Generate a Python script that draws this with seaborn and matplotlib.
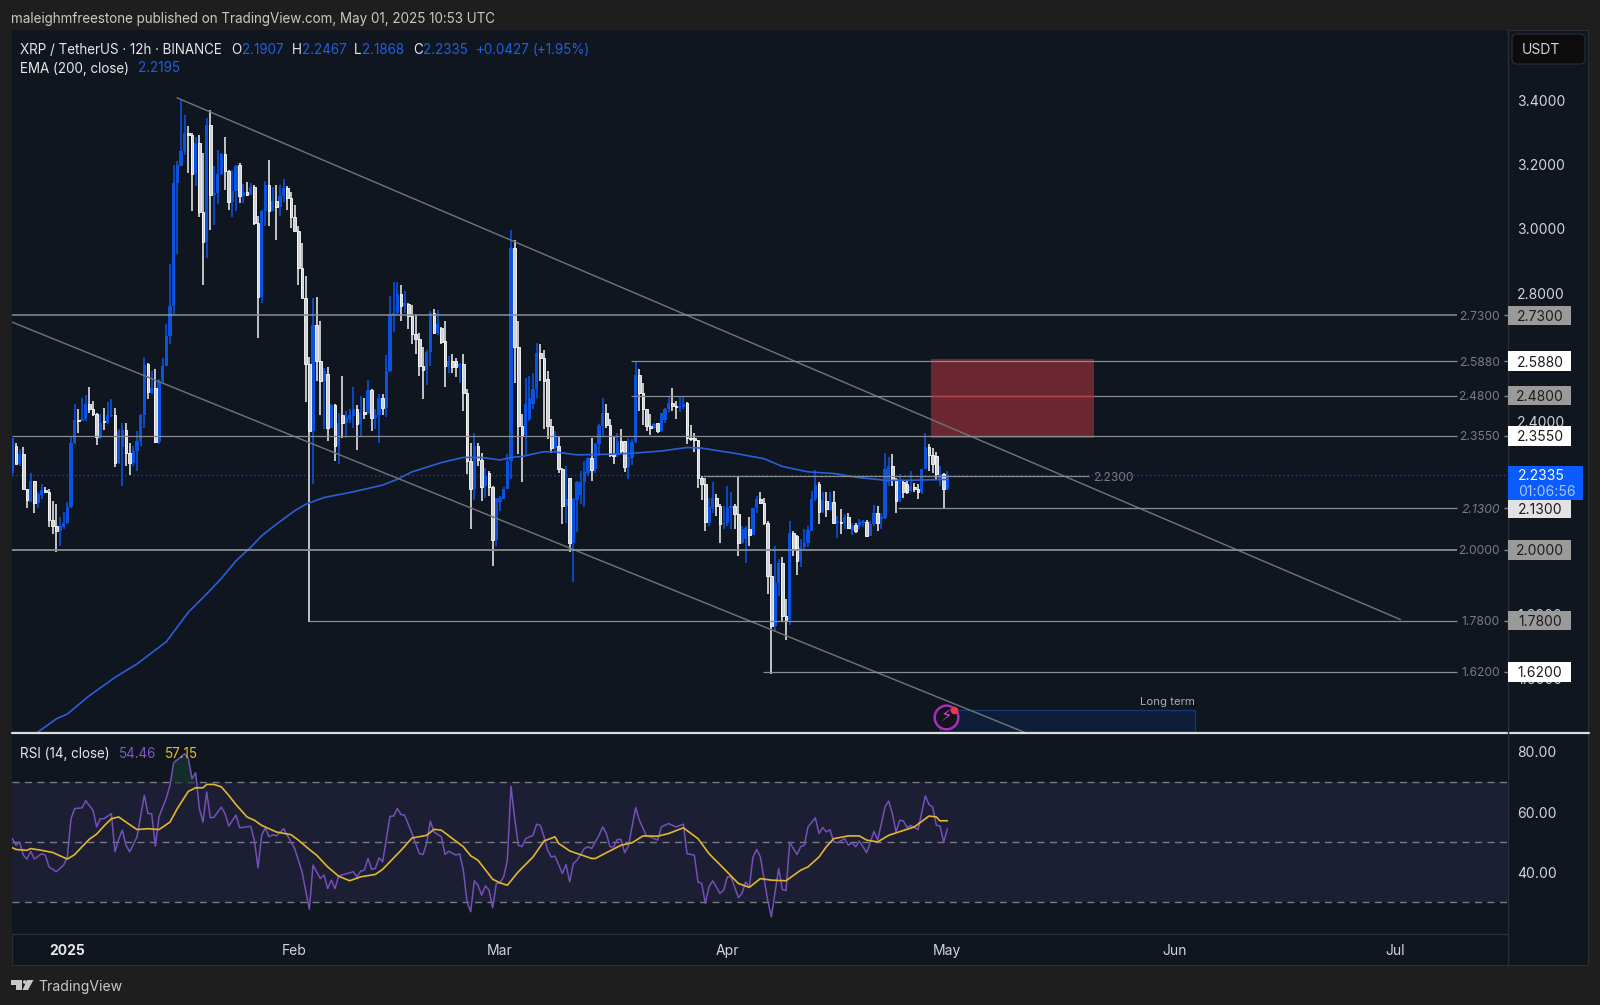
import numpy as np
import pandas as pd
import matplotlib.pyplot as plt
import seaborn as sns
from matplotlib.patches import Rectangle, FancyBboxPatch, Polygon
from matplotlib.transforms import IdentityTransform

W, H = 1600, 1005

# 12h candles, bar 0 is the first one on the left edge
opens = [2.241,2.324,2.267,2.298,2.189,2.148,2.215,2.146,2.172,2.186,
2.179,2.094,2.075,2.060,2.070,2.083,2.134,2.332,2.404,2.402,
2.407,2.453,2.438,2.422,2.353,2.399,2.396,2.417,2.421,2.270,
2.322,2.373,2.301,2.270,2.308,2.339,2.419,2.578,2.490,2.505,
2.336,2.526,2.572,2.666,2.759,3.142,3.194,3.243,3.298,3.291,
3.170,3.267,3.052,2.959,3.324,3.104,3.111,3.171,3.233,3.179,
3.083,3.117,3.199,3.101,3.114,3.106,3.129,3.018,2.787,3.054,
3.137,3.056,3.085,3.067,3.101,3.127,3.096,3.036,2.992,2.878,
2.785,2.578,2.370,2.700,2.588,2.526,2.549,2.381,2.450,2.324,
2.419,2.394,2.409,2.417,2.438,2.393,2.430,2.427,2.497,2.412,
2.419,2.474,2.441,2.557,2.733,2.738,2.798,2.761,2.767,2.728,
2.671,2.658,2.573,2.560,2.616,2.738,2.676,2.690,2.650,2.571,
2.588,2.588,2.571,2.578,2.488,2.277,2.189,2.324,2.280,2.199,
2.239,2.197,2.032,2.148,2.158,2.191,2.277,2.940,2.633,2.386,
2.357,2.409,2.453,2.500,2.612,2.598,2.531,2.386,2.316,2.324,
2.253,2.137,2.225,2.021,2.156,2.170,2.212,2.241,2.285,2.251,
2.329,2.386,2.425,2.388,2.298,2.295,2.339,2.339,2.259,2.285,
2.336,2.546,2.490,2.438,2.386,2.381,2.394,2.370,2.405,2.438,
2.456,2.448,2.443,2.446,2.456,2.350,2.345,2.343,2.225,2.205,
2.085,2.132,2.163,2.137,2.080,2.085,2.132,2.137,2.111,2.023,
2.034,2.065,2.046,2.129,2.160,2.145,2.085,1.920,1.764,1.897,
1.959,1.795,1.783,2.052,2.044,1.966,2.008,2.021,2.060,2.158,
2.205,2.119,2.153,2.125,2.150,2.083,2.088,2.085,2.101,2.063,
2.078,2.075,2.083,2.088,2.042,2.080,2.116,2.096,2.098,2.210,
2.260,2.220,2.153,2.210,2.205,2.184,2.197,2.191,2.179,2.251,
2.319,2.295,2.293,2.220,2.236,2.1907]

highs = [2.350,2.332,2.313,2.319,2.191,2.239,2.215,2.179,2.205,2.197,
2.189,2.153,2.142,2.101,2.119,2.148,2.355,2.453,2.438,2.474,
2.481,2.508,2.464,2.427,2.422,2.443,2.461,2.469,2.443,2.378,
2.396,2.396,2.334,2.324,2.370,2.422,2.602,2.583,2.557,2.562,
2.531,2.598,2.702,2.891,3.199,3.210,3.401,3.355,3.319,3.298,
3.287,3.293,3.236,3.344,3.370,3.194,3.246,3.236,3.287,3.184,
3.184,3.199,3.205,3.139,3.145,3.142,3.137,3.039,3.060,3.150,
3.213,3.129,3.137,3.135,3.155,3.132,3.114,3.075,3.008,2.956,
2.853,2.600,2.785,2.788,2.712,2.565,2.570,2.453,2.453,2.427,
2.541,2.433,2.438,2.508,2.450,2.479,2.474,2.529,2.500,2.438,
2.484,2.484,2.606,2.790,2.834,2.834,2.826,2.806,2.770,2.764,
2.733,2.677,2.633,2.624,2.744,2.749,2.747,2.695,2.714,2.604,
2.609,2.598,2.583,2.609,2.500,2.334,2.365,2.332,2.303,2.256,
2.246,2.199,2.163,2.168,2.195,2.298,2.997,2.966,2.714,2.422,
2.536,2.541,2.552,2.643,2.640,2.622,2.557,2.409,2.370,2.353,
2.256,2.262,2.225,2.163,2.215,2.246,2.277,2.288,2.347,2.332,
2.391,2.474,2.453,2.409,2.355,2.365,2.378,2.339,2.350,2.345,
2.588,2.564,2.519,2.438,2.422,2.396,2.396,2.427,2.443,2.479,
2.505,2.464,2.479,2.479,2.461,2.388,2.365,2.343,2.230,2.225,
2.163,2.212,2.174,2.142,2.137,2.199,2.179,2.142,2.230,2.075,
2.075,2.104,2.132,2.168,2.179,2.163,2.091,1.956,2.011,1.971,
1.977,1.847,2.091,2.060,2.046,2.034,2.065,2.075,2.184,2.248,
2.210,2.179,2.179,2.179,2.184,2.106,2.127,2.111,2.114,2.083,
2.085,2.096,2.094,2.094,2.091,2.140,2.137,2.116,2.301,2.288,
2.298,2.225,2.236,2.218,2.218,2.246,2.208,2.205,2.251,2.363,
2.329,2.316,2.305,2.260,2.241,2.2467]

lows = [2.231,2.267,2.262,2.189,2.129,2.148,2.116,2.132,2.158,2.177,
2.070,2.049,1.994,2.013,2.065,2.080,2.132,2.329,2.365,2.402,
2.402,2.427,2.417,2.327,2.345,2.373,2.391,2.415,2.258,2.267,
2.199,2.262,2.234,2.262,2.246,2.324,2.381,2.469,2.484,2.334,
2.329,2.516,2.572,2.640,2.733,2.922,3.194,3.230,3.174,3.056,
3.132,3.036,2.826,2.909,2.997,3.011,3.077,3.168,3.122,3.060,
3.036,3.054,3.080,3.080,3.101,3.104,3.011,2.661,2.769,3.008,
3.008,3.054,2.966,3.039,3.083,3.060,3.002,2.992,2.826,2.783,
2.461,1.776,2.205,2.526,2.419,2.376,2.340,2.381,2.277,2.267,
2.350,2.350,2.396,2.381,2.311,2.355,2.407,2.422,2.370,2.378,
2.332,2.419,2.415,2.553,2.680,2.735,2.712,2.738,2.689,2.640,
2.609,2.541,2.469,2.512,2.573,2.671,2.668,2.640,2.508,2.552,
2.552,2.540,2.521,2.433,2.236,2.065,2.156,2.262,2.153,2.163,
2.168,1.951,2.013,2.122,2.158,2.191,2.222,2.520,2.298,2.212,
2.293,2.402,2.438,2.474,2.526,2.376,2.345,2.303,2.308,2.241,
2.080,2.085,1.994,1.901,2.056,2.142,2.135,2.230,2.215,2.241,
2.293,2.353,2.381,2.288,2.267,2.288,2.303,2.243,2.222,2.264,
2.334,2.433,2.388,2.370,2.357,2.378,2.363,2.367,2.396,2.430,
2.433,2.407,2.430,2.438,2.329,2.339,2.305,2.194,2.156,2.060,
2.075,2.116,2.106,2.023,2.065,2.075,2.065,2.065,1.982,2.018,
1.959,2.013,2.046,2.116,2.142,2.077,1.863,1.614,1.749,1.857,
1.777,1.721,1.766,1.982,1.922,1.946,2.003,2.008,2.060,2.153,
2.080,2.116,2.101,2.122,2.080,2.036,2.049,2.065,2.065,2.046,
2.054,2.065,2.070,2.039,2.042,2.075,2.060,2.065,2.096,2.199,
2.199,2.116,2.150,2.163,2.174,2.179,2.179,2.158,2.174,2.251,
2.246,2.241,2.222,2.199,2.127,2.1868]

closes = [2.350,2.269,2.298,2.189,2.156,2.215,2.146,2.174,2.186,2.179,
2.094,2.075,2.060,2.075,2.083,2.134,2.332,2.404,2.402,2.409,
2.453,2.440,2.422,2.353,2.396,2.398,2.419,2.421,2.270,2.370,
2.373,2.301,2.270,2.308,2.339,2.419,2.575,2.493,2.505,2.336,
2.526,2.572,2.666,2.759,3.142,3.199,3.243,3.298,3.291,3.170,
3.267,3.052,2.959,3.324,3.104,3.111,3.171,3.233,3.179,3.083,
3.119,3.197,3.101,3.114,3.106,3.129,3.018,2.787,3.054,3.137,
3.056,3.085,3.067,3.101,3.127,3.096,3.036,2.992,2.878,2.785,
2.578,2.370,2.700,2.588,2.526,2.557,2.381,2.450,2.324,2.396,
2.394,2.412,2.419,2.438,2.393,2.427,2.422,2.497,2.412,2.419,
2.474,2.441,2.557,2.733,2.738,2.798,2.761,2.769,2.728,2.671,
2.658,2.573,2.560,2.616,2.738,2.676,2.705,2.648,2.573,2.588,
2.571,2.571,2.578,2.488,2.277,2.189,2.324,2.280,2.197,2.230,
2.197,2.032,2.163,2.163,2.191,2.277,2.940,2.633,2.386,2.357,
2.453,2.474,2.500,2.612,2.598,2.526,2.386,2.316,2.355,2.253,
2.137,2.158,2.021,2.158,2.212,2.212,2.243,2.285,2.249,2.329,
2.386,2.425,2.388,2.295,2.293,2.339,2.308,2.259,2.288,2.336,
2.546,2.490,2.438,2.386,2.380,2.391,2.370,2.427,2.438,2.456,
2.448,2.445,2.448,2.453,2.350,2.345,2.343,2.225,2.205,2.088,
2.135,2.163,2.137,2.080,2.085,2.132,2.137,2.111,2.023,2.065,
2.067,2.046,2.132,2.160,2.145,2.083,1.920,1.764,1.897,1.959,
1.795,1.783,2.052,2.000,1.966,2.008,2.021,2.062,2.158,2.202,
2.119,2.156,2.127,2.150,2.083,2.091,2.083,2.104,2.067,2.075,
2.060,2.088,2.091,2.042,2.080,2.116,2.085,2.101,2.251,2.260,
2.220,2.153,2.215,2.179,2.179,2.199,2.191,2.179,2.251,2.319,
2.295,2.267,2.236,2.236,2.191,2.2335]

ema_bars = [0,7,12,15,21,28,34,42,48,53,57,61,65,68,72,77,80,85,93,101,105,109,117,123,128,133,136,139,
145,148,154,163,169,177,184,188,197,205,210,217,224,231,238,245,255]
ema_vals = [1.38,1.433,1.474,1.489,1.546,1.603,1.645,1.714,1.806,1.863,1.911,1.966,2.008,2.044,2.080,2.122,2.142,2.163,
2.181,2.202,2.220,2.243,2.272,2.288,2.288,2.280,2.288,2.291,2.306,2.305,2.296,2.298,2.301,2.308,2.319,2.317,
2.301,2.284,2.260,2.243,2.238,2.225,2.217,2.217,2.2195]

rsi_bars = [0,1,2,3,4,5,6,8,9,10,12,14,15,16,17,19,20,22,23,24,25,27,28,29,30,31,32,34,36,37,38,39,40,42,43,44,47,48,49,50,
51,52,53,54,55,57,58,59,61,62,65,66,67,68,69,70,71,72,74,77,79,81,82,84,85,86,87,88,89,93,94,95,96,97,98,99,100,101,103,104,
105,106,107,109,111,112,113,114,115,117,118,119,121,122,123,124,125,126,127,128,129,130,131,132,133,134,135,136,137,138,139,
140,142,143,144,145,146,147,148,150,151,152,153,154,156,157,158,160,161,162,163,164,165,166,167,168,170,171,173,174,176,177,
179,181,183,184,186,187,188,189,190,191,193,194,195,196,198,199,200,201,202,203,204,206,207,209,210,211,212,214,215,216,217,
219,220,221,222,223,224,225,227,228,229,230,231,233,235,236,238,239,240,241,242,243,244,245,247,249,250,251,252,253,254,255]
rsi_vals = [51.2,49.0,50.1,45.7,44.4,47.0,44.4,46.2,45.7,41.8,40.2,42.4,45.1,57.8,61.2,61.4,63.8,60.6,55.1,57.8,57.8,59.5,46.8,51.0,54.0,49.0,46.8,51.8,65.6,59.5,59.5,48.7,58.4,64.7,68.9,76.4,79.4,77.8,71.1,73.1,
61.2,56.7,66.7,58.1,58.3,61.7,59.5,55.4,59.0,54.8,55.3,50.7,41.5,52.3,54.8,51.8,52.5,52.1,54.5,47.9,40.2,27.7,42.4,37.9,39.1,34.6,37.4,34.6,38.8,40.2,38.5,40.4,40.7,44.6,41.0,41.3,44.8,43.5,58.6,58.7,
61.2,59.2,59.0,52.9,46.2,45.9,49.6,57.0,53.4,51.8,45.9,47.0,45.7,46.2,40.7,30.2,26.9,37.2,35.7,32.4,35.5,34.1,28.2,36.3,36.5,38.5,44.0,68.6,57.8,49.0,48.5,
51.2,52.3,56.0,55.6,51.8,47.3,45.1,45.4,39.6,42.6,36.8,42.9,44.0,47.9,48.5,47.9,52.3,55.1,52.9,48.5,48.5,50.9,50.9,46.5,48.7,61.5,57.3,52.0,51.8,50.7,55.1,
56.2,55.1,56.0,46.2,45.7,36.8,36.3,29.7,35.2,37.2,33.0,34.1,38.5,38.5,31.6,33.0,36.8,35.2,45.1,47.6,45.1,30.8,25.2,41.3,34.3,33.9,49.9,45.9,48.5,49.0,55.1,
58.1,52.9,54.9,53.4,54.2,50.1,49.8,51.2,49.0,49.8,48.5,50.4,46.5,53.6,50.7,61.7,63.7,59.5,53.4,57.3,57.1,54.9,55.6,54.2,65.4,62.5,61.7,55.6,55.4,50.1,54.46]

ma_bars = [0,1,4,5,8,11,15,17,19,21,23,25,27,29,31,34,37,40,43,45,48,50,52,53,55,57,59,61,64,66,68,70,72,76,78,81,83,86,89,92,95,99,101,106,109,113,115,117,
123,125,127,131,133,135,138,142,145,148,149,152,158,159,162,166,169,172,176,179,183,187,190,194,198,201,204,207,211,215,217,220,222,224,228,231,233,236,239,246,250,252,253,255]
ma_vals = [48.2,47.6,47.3,47.9,47.3,46.6,44.4,45.9,48.5,51.0,52.7,55.4,57.8,58.4,56.7,54.2,54.5,54.2,56.7,61.2,66.9,68.1,68.1,69.2,69.2,68.4,65.6,62.5,58.4,57.3,55.6,54.5,53.4,52.5,50.7,47.6,45.7,41.8,38.7,37.2,38.5,39.3,41.0,47.3,51.4,52.3,54.3,54.0,
48.5,45.5,44.0,37.7,36.5,35.7,40.2,45.1,50.4,51.8,49.6,47.1,44.6,44.6,46.5,49.0,49.8,52.1,52.0,52.9,54.8,51.2,46.2,41.3,36.3,35.0,37.9,37.4,37.2,40.7,41.8,45.1,48.5,51.2,52.1,52.1,50.7,50.1,52.3,55.1,58.7,58.4,57.1,57.15]

# drawn levels: price, first bar
level_prices = [2.73, 2.588, 2.48, 2.355, 2.13, 2.0, 1.78, 1.62]
level_starts = [0, 168.7, 168.7, 0, 241.5, 0, 81, 204.7]
level_labels = ['2.7300', '2.5880', '2.4800', '2.3550', '2.1300', '2.0000', '1.7800', '1.6200']
level_widths = [1.1, 0.9, 0.9, 0.9, 0.9, 1.3, 0.9, 0.9]
tag_colors = ['#9a9a9a', '#ffffff', '#9a9a9a', '#ffffff', '#e2e2e2', '#9a9a9a', '#9a9a9a', '#ffffff']
price_ticks = [1.6, 1.8, 2.4, 2.8, 3.0, 3.2, 3.4]
rsi_ticks = [40, 60, 80]
month_bars = [15, 77, 133, 195, 255, 317, 377]
month_labels = ['2025', 'Feb', 'Mar', 'Apr', 'May', 'Jun', 'Jul']

BG = '#1e1e1e'
PANE = '#0f1620'
BLUE = '#0a52e0'
TEXT = '#d1d4dc'
GREY = '#8b8d93'

sns.set_theme(style='dark', rc={'axes.facecolor': PANE, 'figure.facecolor': BG})
plt.rcParams['font.family'] = ['Inter', 'DejaVu Sans']

def box(x0, y0, x1, y1):
    # pixels from the top left to a figure rectangle
    return [x0 / W, 1 - y1 / H, (x1 - x0) / W, (y1 - y0) / H]

fig = plt.figure(figsize=(W / 100, H / 100), dpi=100)

def put(x, y, s, color=TEXT, size=9.7, **kw):
    fig.text(x / W, 1 - y / H, s, color=color, fontsize=size, va='center_baseline', **kw)

# right column and the time strip share the pane colour
fig.patches.append(Rectangle((12 / W, 1 - 965 / H), 1576 / W, 935 / H, transform=fig.transFigure, facecolor=PANE, edgecolor='#2a2e39', lw=0.8, zorder=-1))

ax = fig.add_axes(box(12, 30, 1508, 732))
rsi_ax = fig.add_axes(box(12, 733, 1508, 934), sharex=ax)
tag_ax = fig.add_axes(box(1508, 30, 1584, 732), sharey=ax, zorder=5)

df = pd.DataFrame({'open': opens, 'high': highs, 'low': lows, 'close': closes})
df['bar'] = df.index
df['up'] = df['close'] >= df['open']
df['body'] = (df['close'] - df['open']).abs().clip(lower=0.004)
df['bottom'] = df[['open', 'close']].min(axis=1)
up = df[df['up']]
down = df[~df['up']]

# red zone and the long term box go under the candles
ax.bar((250.5 + 295) / 2, 2.593 - 2.35, bottom=2.35, width=295 - 250.5, color='#6a2731', lw=0, zorder=1)
ax.bar((253 + 322.6) / 2, 1.502 - 1.38, bottom=1.38, width=322.6 - 253, color='#0e1e38', edgecolor='#123a7a', lw=0.9, zorder=1)
ax.text(322.6, 1.527, 'Long term', color='#a9abb1', fontsize=8.2, ha='right', va='center')

ax.vlines(up['bar'], up['low'], up['high'], color=BLUE, lw=1.2, zorder=3)
ax.vlines(down['bar'], down['low'], down['high'], color='#f2f2f2', lw=1.1, zorder=3)
ax.bar(up['bar'], up['body'], bottom=up['bottom'], width=0.95, color=BLUE, lw=0, zorder=4)
ax.bar(down['bar'], down['body'], bottom=down['bottom'], width=0.72, color='#cfd1d5', edgecolor='#ffffff', lw=0.6, zorder=4)

sns.lineplot(x=ema_bars, y=ema_vals, ax=ax, color='#2a5fd8', lw=1.2, estimator=None, sort=False, legend=False, zorder=5)

# trend lines
ax.plot([44.9, 378.6], [3.408, 1.783], color='#6f7177', lw=1.05, zorder=6)
ax.plot([0, 296.6], [2.709, 1.337], color='#6f7177', lw=1.05, zorder=6)

for price, start, lw in zip(level_prices, level_starts, level_widths):
    ax.hlines(price, start, 394, color=GREY, lw=lw, zorder=6)
    ax.hlines(price, 406.8, 408, color=GREY, lw=1, zorder=6)
for price, label in zip(level_prices, level_labels):
    ax.text(405.7, price, label, color='#787b86', fontsize=8.7, ha='right', va='center_baseline',
            style='italic' if label == '2.1300' else 'normal')
ax.hlines(2.48, 250.5, 295, color='#b3404a', lw=1.0, zorder=6)
ax.hlines(2.23, 188.4, 293.6, color=GREY, lw=0.9, zorder=6)
ax.text(294.7, 2.23, '2.2300', color='#787b86', fontsize=8.6, ha='left', va='center_baseline')
ax.axhline(2.2335, color='#1a44a8', lw=1.0, ls=(0, (1, 2)), zorder=2)

# alert icon
ax.scatter([254.7], [1.48], s=290, facecolor='#14121f', edgecolor='#a830b8', lw=1.8, zorder=7)
ax.text(254.7, 1.48, '\u26a1', color='#c040d0', fontsize=12, ha='center', va='center', zorder=8)
ax.scatter([256.8], [1.502], s=30, color='#f23645', zorder=9, lw=0)

ax.set_xlim(-0.09, 407.9)
ax.set_ylim(1.433, 3.619)
ax.yaxis.tick_right()
ax.set_yticks(price_ticks)
ax.set_yticklabels(['%.4f' % t for t in price_ticks], color=TEXT, fontsize=10)
ax.tick_params(axis='y', length=0, pad=6.5)
ax.tick_params(axis='x', length=0, labelbottom=False)
ax.set_xlabel('')
for s in ax.spines.values():
    s.set_visible(False)

# price tags sit in their own narrow axes, same y scale as the candles
tag_ax.set_xlim(0, 76)
tag_ax.barh(level_prices, [63] * len(level_prices), height=0.06, color=tag_colors, lw=0, align='center')
for price, label in zip(level_prices, level_labels):
    tag_ax.text(32, price, label, color='#1c1c1c', fontsize=10, ha='center', va='center_baseline')
tag_ax.barh([2.2076], [75], height=0.107, color='#0b5cff', lw=0)
tag_ax.text(10, 2.2335, '2.2335', color='#ffffff', fontsize=10, va='center_baseline')
tag_ax.text(10, 2.186, '01:06:56', color='#a9c4ff', fontsize=10, va='center_baseline')
tag_ax.axis('off')
tag_ax.patch.set_alpha(0)

# RSI pane
rsi_ax.axhspan(30, 70, color='#1c1e33', lw=0, zorder=0)
for level in [70, 50, 30]:
    rsi_ax.axhline(level, color='#787b86', lw=1.0, ls=(0, (5, 4)), zorder=1)
rsi_arr = np.array(rsi_vals)
rsi_ax.fill_between(rsi_bars, 70, rsi_arr, where=rsi_arr >= 70, interpolate=True, color='#122e28', lw=0, zorder=1)
sns.lineplot(x=rsi_bars, y=rsi_vals, ax=rsi_ax, color='#7450b8', lw=1.1, estimator=None, sort=False, legend=False, zorder=3)
sns.lineplot(x=ma_bars, y=ma_vals, ax=rsi_ax, color='#e3b72c', lw=1.2, estimator=None, sort=False, legend=False, zorder=4)
rsi_ax.set_ylim(19.5, 86.3)
rsi_ax.yaxis.tick_right()
rsi_ax.set_yticks(rsi_ticks)
rsi_ax.set_yticklabels(['%.2f' % t for t in rsi_ticks], color=TEXT, fontsize=10)
rsi_ax.tick_params(axis='y', length=0, pad=6.5)
rsi_ax.set_xticks(month_bars)
rsi_ax.set_xticklabels(month_labels, color=TEXT, fontsize=10)
rsi_ax.get_xticklabels()[0].set_fontweight('bold')
rsi_ax.get_xticklabels()[0].set_color('#e8e8e8')
rsi_ax.tick_params(axis='x', length=0, pad=7)
rsi_ax.set_xlabel('')
rsi_ax.set_ylabel('')
for s in rsi_ax.spines.values():
    s.set_visible(False)
ax.set_xlim(-0.09, 407.9)

# pane separators and the price column edge
fig.add_artist(plt.Line2D([12 / W, 1589 / W], [1 - 732.5 / H] * 2, color='#dcdcdc', lw=1.6))
fig.add_artist(plt.Line2D([12 / W, 1508 / W], [1 - 934 / H] * 2, color='#2a2e39', lw=1))
fig.add_artist(plt.Line2D([1508 / W, 1508 / W], [1 - 30 / H, 1 - 965 / H], color='#2a2e39', lw=1))

# currency button
fig.patches.append(FancyBboxPatch((1515, H - 61), 67, 24, boxstyle='round,pad=3,rounding_size=5', transform=IdentityTransform(),
                                  facecolor='#0c0c0c', edgecolor='#2a2e39', lw=0.8))
put(1522, 49, 'USDT', size=10)

# header, legends, footer
put(11, 18, 'maleighmfreestone published on TradingView.com, May 01, 2025 10:53 UTC', color='#c8c8c8', size=9.7)
put(20, 48, 'XRP / TetherUS \u00b7 12h \u00b7 BINANCE', color='#e6e6e6')
for x, s in [(231, 'O'), (292, 'H'), (354, 'L'), (413, 'C')]:
    put(x, 48, s, color='#e6e6e6')
for x, s in [(242, '2.1907'), (302, '2.2467'), (362, '2.1868'), (423, '2.2335'), (476, '+0.0427'), (533, '(+1.95%)')]:
    put(x, 48, s, color='#1f5fe0')
put(20, 67, 'EMA (200, close)', color='#e6e6e6')
put(138, 67, '2.2195', color='#1f5fe0')
put(20.5, 752, 'RSI (14, close)', color='#e6e6e6')
put(119, 752, '54.46', color='#7e57c2')
put(165, 752, '57.15', color='#e9bc1c')

logo = '#c8c8c8'
for pts in [[(11, 980), (22, 980), (22, 990), (16, 990), (16, 985), (11, 985)],
            [(27, 980), (33.5, 980), (28, 990), (22.5, 990)]]:
    fig.patches.append(Polygon([(x, H - y) for x, y in pts], transform=IdentityTransform(), facecolor=logo, lw=0))
fig.patches.append(plt.Circle((24.7, H - 982), 1.8, transform=IdentityTransform(), facecolor=logo, lw=0))
put(38, 985, 'TradingView', color='#c8c8c8', size=10.1)

fig.savefig('out.png', dpi=100, facecolor=BG)
